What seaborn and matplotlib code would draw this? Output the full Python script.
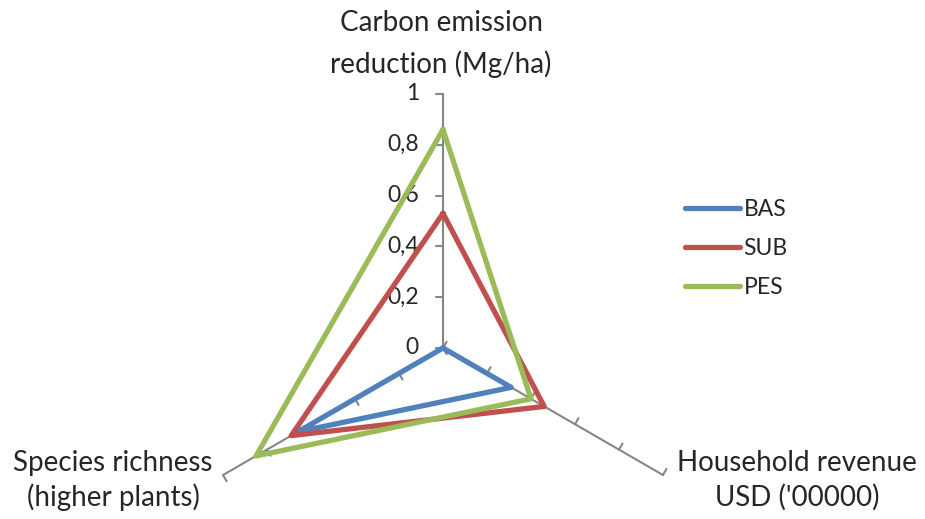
import numpy as np
import pandas as pd
import matplotlib
matplotlib.use("Agg")
import matplotlib.pyplot as plt
import seaborn as sns

# Radar axes (clockwise from the top) and scenario scores
axes_labels = [["Carbon emission", "reduction (Mg/ha)"],
               ["Household revenue", "USD ('00000)"],
               ["Species richness", "(higher plants)"]]
scenarios = ["BAS", "SUB", "PES"]
bas = [0.00, 0.31, 0.66]
sub = [0.53, 0.46, 0.69]
pes = [0.86, 0.40, 0.85]
tick_values = [0, 0.2, 0.4, 0.6, 0.8, 1]
tick_labels = ["0", "0,2", "0,4", "0,6", "0,8", "1"]
colors = ["#4F81BD", "#C0504D", "#9BBB59"]

sns.set_theme(style="white")
plt.rcParams["font.family"] = ["Lato", "DejaVu Sans"]

W, H = 925, 519
cx, cy, R = 443, 348, 254  # centre and unit radius in pixels
fig = plt.figure(figsize=(W / 100, H / 100), dpi=100)
ax = fig.add_axes([0, 0, 1, 1])
ax.set_xlim(-cx / R, (W - cx) / R)
ax.set_ylim(-(H - cy) / R, cy / R)
ax.axis("off")


def px(x, y):
    """Pixel position (from the top-left) to data coordinates."""
    return (x - cx) / R, (cy - y) / R


angles = np.deg2rad([0, 120, 240])  # clockwise from north

# spokes with perpendicular tick marks
axis_col = "#868686"
tick_len = 0.028
for th in angles:
    ux, uy = np.sin(th), np.cos(th)
    qx, qy = -uy, ux
    ax.plot([0, ux], [0, uy], color=axis_col, lw=1.5, zorder=1)
    for t in tick_values:
        ax.plot([t * ux, t * ux + tick_len * qx], [t * uy, t * uy + tick_len * qy],
                color=axis_col, lw=1.5, zorder=1)

# tick labels along the top spoke
for t, lab in zip(tick_values, tick_labels):
    ax.text(-0.095, t, lab, ha="right", va="center", fontsize=16.5, color="#262626")

# series polygons
rows = []
for name, vals in zip(scenarios, [bas, sub, pes]):
    for r, th in list(zip(vals, angles)) + [(vals[0], angles[0])]:
        rows.append({"scenario": name, "x": r * np.sin(th), "y": r * np.cos(th)})
df = pd.DataFrame(rows)
sns.lineplot(data=df, x="x", y="y", hue="scenario", sort=False, estimator=None,
             palette=colors, linewidth=3.8, ax=ax, zorder=3)
for line in ax.get_lines()[-3:]:
    line.set_solid_joinstyle("miter")

leg = ax.legend(loc="upper left", bbox_to_anchor=(676 / W, 1 - 190 / H),
                frameon=False, fontsize=16.5, handlelength=2.4, handletextpad=0.15,
                labelspacing=0.78, borderaxespad=0)
for h in leg.get_lines():
    h.set_linewidth(3.8)
    h.set_solid_capstyle("round")
for t in leg.get_texts():
    t.set_color("#262626")

# axis titles, one line at a time
title_pos = [[(441, 23), (441, 64)],
             [(797, 463), (797, 497)],
             [(113, 463), (113, 497)]]
for lines, spots in zip(axes_labels, title_pos):
    for text, (x, y) in zip(lines, spots):
        ax.text(*px(x, y), text, ha="center", va="center", fontsize=20, color="#262626")

fig.savefig("out.png", dpi=100)
